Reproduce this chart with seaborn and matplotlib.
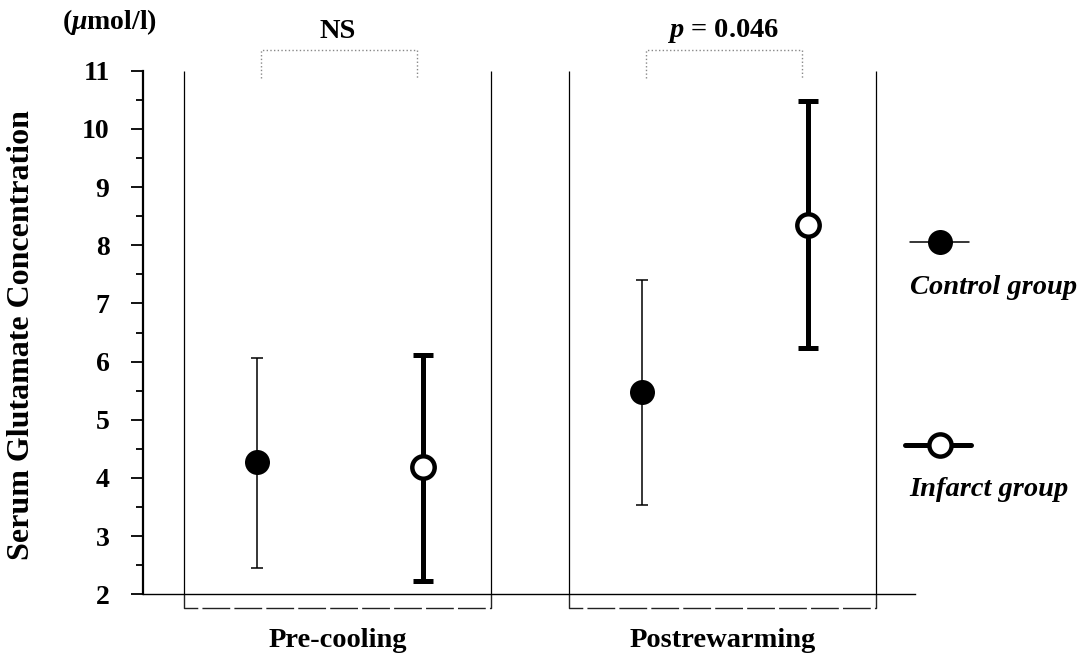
import numpy as np
import pandas as pd
import matplotlib.pyplot as plt
import seaborn as sns
from matplotlib.lines import Line2D

# values (umol/l)
phases = ['Pre-cooling', 'Postrewarming']
groups = ['Control group', 'Infarct group']
control_mean = [4.28, 5.48]
control_low = [2.46, 3.53]
control_high = [6.06, 7.40]
infarct_mean = [4.18, 8.35]
infarct_low = [2.23, 6.24]
infarct_high = [6.12, 10.48]
p_labels = ['NS', '$p$ = 0.046']

sns.set_theme(style='ticks')
plt.rcParams['font.family'] = ['Liberation Serif', 'DejaVu Serif']
plt.rcParams['font.weight'] = 'bold'
plt.rcParams['mathtext.fontset'] = 'custom'
plt.rcParams['mathtext.rm'] = 'Liberation Serif:bold'
plt.rcParams['mathtext.it'] = 'Liberation Serif:italic:bold'
plt.rcParams['mathtext.bf'] = 'Liberation Serif:bold'
for k in ['text.color', 'axes.labelcolor', 'xtick.color', 'ytick.color',
          'axes.edgecolor']:
    plt.rcParams[k] = 'black'

# group offsets inside each phase box
off_c, off_i, half = -0.209, 0.221, 0.399
pos = np.arange(len(phases))

df = pd.DataFrame({
    'x': np.concatenate([pos + off_c, pos + off_i]),
    'mean': control_mean + infarct_mean,
    'low': control_low + infarct_low,
    'high': control_high + infarct_high,
    'group': [groups[0]] * 2 + [groups[1]] * 2,
})

fig = plt.figure(figsize=(10.83, 6.53), dpi=100)
ax = fig.add_axes([0.132, 0.0899, 0.713, 0.8018])

# error bars
for g, lw, cap in [(groups[0], 1.1, 4.5), (groups[1], 3.6, 7.5)]:
    d = df[df.group == g]
    ax.errorbar(d.x, d['mean'], yerr=[d['mean'] - d.low, d.high - d['mean']],
                fmt='none', ecolor='black', elinewidth=lw, capsize=cap,
                capthick=lw, zorder=2)

# means
sns.scatterplot(data=df[df.group == groups[0]], x='x', y='mean', s=324,
                color='black', edgecolor='black', linewidth=0, ax=ax,
                zorder=3, legend=False)
sns.scatterplot(data=df[df.group == groups[1]], x='x', y='mean', s=260,
                color='white', edgecolor='black', linewidth=3.2, ax=ax,
                zorder=3, legend=False)

ax.set_xlim(-0.505, 1.5)
ax.set_ylim(2, 11)

# phase boxes and brackets
for i in pos:
    ax.vlines([i - half, i + half], 2, 11, color='black', lw=0.9, zorder=1)
    ax.plot([i - half, i - half, i + half, i + half], [2, 1.77, 1.77, 2],
            color='#222222', lw=1.0, ls=(0, (20, 3)), clip_on=False)
    xa, xb = i + off_c + 0.01, i + off_i - 0.015
    ax.plot([xa, xa, xb, xb], [10.87, 11.35, 11.35, 10.87], color='#888888',
            lw=1.0, ls=':', clip_on=False)
    ax.text(i, 11.68, p_labels[i], ha='center', va='center', fontsize=20.5,
            fontweight='bold', clip_on=False)

ax.set_yticks(range(2, 12))
ax.set_yticks(np.arange(2.5, 11, 1), minor=True)
ax.tick_params(axis='y', which='major', length=9, width=1.3, labelsize=20,
               pad=15, direction='out')
ax.tick_params(axis='y', which='minor', length=5, width=1.3, direction='out')
ax.set_xticks(pos)
ax.set_xticklabels(phases, fontsize=20.5, fontweight='bold')
ax.tick_params(axis='x', length=0, pad=24)
for lab in ax.get_yticklabels():
    lab.set_fontweight('bold')

sns.despine(ax=ax)
ax.spines['left'].set_linewidth(1.6)
ax.spines['bottom'].set_linewidth(1.0)
ax.set_xlabel('')
ax.set_ylabel('Serum Glutamate Concentration', fontsize=23, fontweight='bold')
ax.yaxis.set_label_coords(-0.138, 0.495)

fig.text(0.101, 0.966, '($\\mu$mol/l)', ha='center', va='center',
         fontsize=20, fontweight='bold')

# legend drawn by hand: marker above label
fig.add_artist(Line2D([0.840, 0.895], [0.629, 0.629], color='black', lw=1.1,
                      transform=fig.transFigure))
fig.add_artist(Line2D([0.868], [0.629], marker='o', ms=18, color='black',
                      mew=0, transform=fig.transFigure))
fig.text(0.840, 0.559, groups[0], ha='left', va='center', fontsize=20.5,
         fontweight='bold', style='italic')
fig.add_artist(Line2D([0.836, 0.897], [0.319, 0.319], color='black', lw=3.6,
                      transform=fig.transFigure))
fig.add_artist(Line2D([0.868], [0.319], marker='o', ms=16, color='black',
                      mfc='white', mew=3.2, transform=fig.transFigure))
fig.text(0.840, 0.250, groups[1], ha='left', va='center', fontsize=20.5,
         fontweight='bold', style='italic')

fig.savefig('out.png', dpi=100)
